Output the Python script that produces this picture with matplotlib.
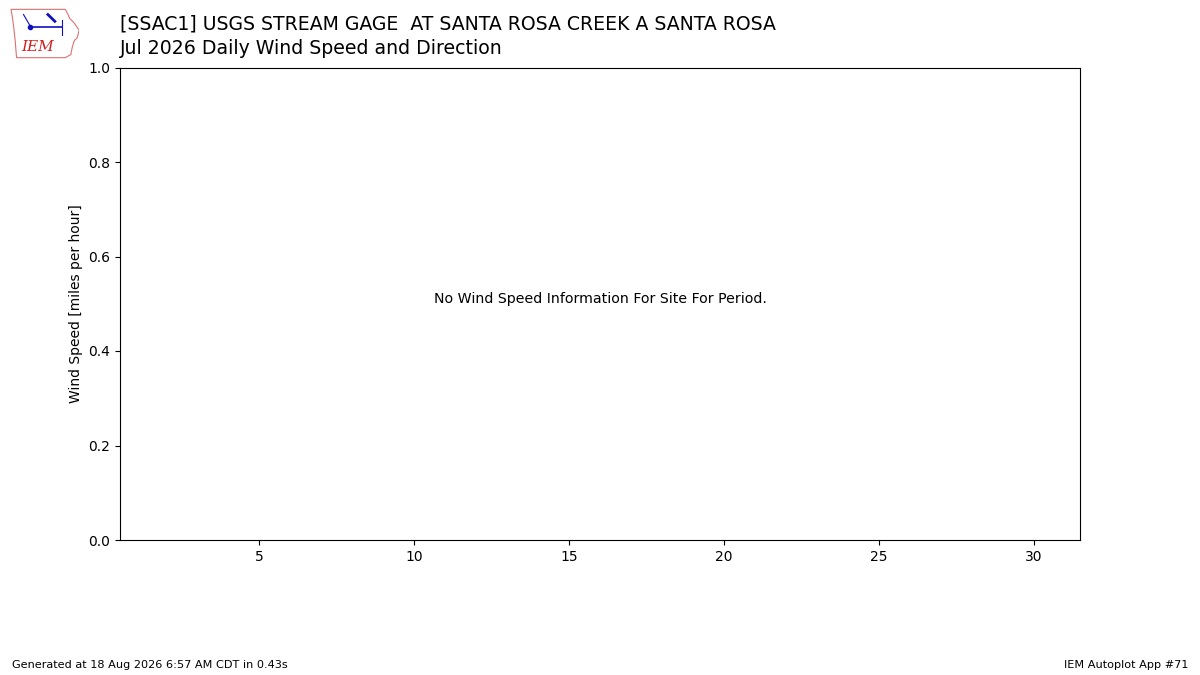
import matplotlib

matplotlib.use("Agg")
import matplotlib.pyplot as plt

# -----------------------------------------------------------------------------
# Data
# -----------------------------------------------------------------------------

TITLE_LINES = [
    "[SSAC1] USGS STREAM GAGE  AT SANTA ROSA CREEK A SANTA ROSA",
    "Jul 2026 Daily Wind Speed and Direction",
]
YLABEL = "Wind Speed [miles per hour]"
MESSAGE = "No Wind Speed Information For Site For Period."
FOOTER_LEFT = "Generated at 18 Aug 2026 6:57 AM CDT in 0.43s"
FOOTER_RIGHT = "IEM Autoplot App #71"

DAY_TICKS = [5, 10, 15, 20, 25, 30]
DAY_LIMITS = [0.5, 31.5]
SPEED_LIMITS = [0.0, 1.0]
SPEED_TICKS = [0.0, 0.2, 0.4, 0.6, 0.8, 1.0]

# no observations for the period
days = []
speeds = []

# rough Iowa outline for the logo
IOWA_X = [0.02, 0.80, 0.84, 0.86, 0.92, 1.0, 0.97, 0.93, 0.90, 0.88, 0.80, 0.10, 0.08, 0.06, 0.04, 0.02]
IOWA_Y = [0.95, 0.95, 0.85, 0.78, 0.70, 0.55, 0.40, 0.35, 0.22, 0.08, 0.02, 0.02, 0.35, 0.60, 0.80, 0.95]

FIG_H_PX = 675


def draw_logo(fig):
    lax = fig.add_axes([0.008, 0.913, 0.058, 0.077])
    lax.fill(IOWA_X, IOWA_Y, facecolor="white", edgecolor="#e07070", linewidth=0.8)
    lax.plot([0.3, 0.75], [0.62, 0.62], color="#1010c0", linewidth=1.2)
    lax.plot([0.3], [0.62], "o", color="#1010c0", markersize=3)
    lax.plot([0.2, 0.3], [0.85, 0.62], color="#1010c0", linewidth=0.8)
    lax.plot([0.75, 0.75], [0.75, 0.45], color="#1010c0", linewidth=0.8)
    lax.plot([0.55, 0.65], [0.85, 0.72], color="#1010c0", linewidth=2)
    lax.text(
        0.40,
        0.22,
        "IEM",
        color="#d02020",
        fontsize=11,
        family="DejaVu Serif",
        style="italic",
        ha="center",
        va="center",
    )
    lax.set_xlim(0, 1)
    lax.set_ylim(0, 1)
    lax.axis("off")


def main():
    fig = plt.figure(figsize=(12, 6.75), dpi=100)
    ax = fig.add_axes([0.1, 0.2, 0.8, 0.7])

    ax.plot(days, speeds)

    ax.set_xlim(DAY_LIMITS)
    ax.set_ylim(SPEED_LIMITS)
    ax.set_xticks(DAY_TICKS)
    ax.set_yticks(SPEED_TICKS)
    ax.set_ylabel(YLABEL)

    ax.text(
        0.5, 0.51, MESSAGE, transform=ax.transAxes, ha="center", va="center", fontsize=10.2
    )

    for i, line in enumerate(TITLE_LINES):
        y_px = 24 + 24 * i
        fig.text(0.1, 1 - y_px / FIG_H_PX, line, fontsize=13.6, ha="left", va="center")

    fig.text(0.01, 10 / FIG_H_PX, FOOTER_LEFT, fontsize=8.15, ha="left", va="center")
    fig.text(0.99, 10 / FIG_H_PX, FOOTER_RIGHT, fontsize=8.15, ha="right", va="center")

    draw_logo(fig)

    fig.savefig("out.png", dpi=100)
    plt.close(fig)


if __name__ == "__main__":
    main()
